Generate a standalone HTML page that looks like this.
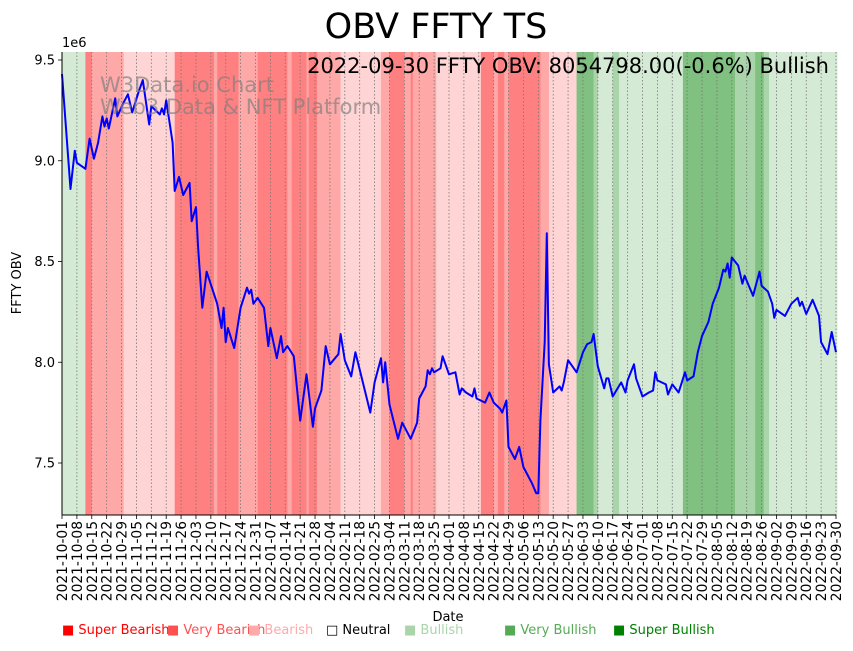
<!DOCTYPE html>
<html><head><meta charset="utf-8">
<style>
body{margin:0;background:#fff;font-family:"Liberation Sans","DejaVu Sans",sans-serif;}
svg text{font-family:"DejaVu Sans","Liberation Sans",sans-serif;}
</style></head>
<body>
<svg id="chart" width="853" height="646" xmlns="http://www.w3.org/2000/svg">
<text x="436" y="38" font-size="35" text-anchor="middle">OBV FFTY TS</text>
<text x="62" y="47" font-size="13">1e6</text>
<text transform="translate(21,283) rotate(-90)" font-size="13" text-anchor="middle">FFTY OBV</text>
<text x="448" y="621" font-size="13" text-anchor="middle">Date</text>
<g id="bands"></g>
<g id="grid"></g>
<g id="series"></g>
<text x="100" y="92" font-size="21" fill="#808080" fill-opacity="0.7">W3Data.io Chart</text>
<text x="100" y="114" font-size="21" fill="#808080" fill-opacity="0.7">Web3 Data &amp; NFT Platform</text>
<text x="829" y="73" font-size="21" text-anchor="end">2022-09-30 FFTY OBV: 8054798.00(-0.6%) Bullish</text>
<g id="axes"></g>
<g id="legend"></g>
</svg>
<script>
const days=[0,4,6,7,11,13,15,17,19,20,21,22,25,26,29,31,33,36,38,41,42,46,47,48,49,52,53,55,57,60,61,63,64,66,68,73,75,76,77,78,81,84,87,88,89,90,92,95,97,98,101,103,104,106,109,112,115,118,119,122,124,126,130,131,133,136,138,145,147,150,151,152,154,158,160,162,164,167,168,171,172,173,174,175,178,179,182,185,187,188,190,193,194,195,199,201,203,206,207,209,210,213,215,217,221,223,224,225,227,228,229,231,234,235,236,238,242,245,247,249,250,252,255,256,257,259,263,265,266,269,270,273,276,278,279,280,284,285,287,290,293,294,297,299,301,304,306,309,311,312,313,314,315,318,320,321,323,325,328,329,332,334,335,336,340,343,346,347,348,350,353,356,357,360,362,364];
const obv=[9.43,8.86,9.05,8.99,8.96,9.11,9.01,9.09,9.22,9.17,9.21,9.16,9.31,9.22,9.29,9.33,9.24,9.34,9.40,9.18,9.27,9.23,9.26,9.23,9.30,9.09,8.85,8.92,8.83,8.89,8.70,8.77,8.57,8.27,8.45,8.29,8.17,8.27,8.10,8.17,8.07,8.27,8.37,8.34,8.36,8.29,8.32,8.27,8.08,8.17,8.02,8.13,8.05,8.08,8.03,7.71,7.94,7.68,7.77,7.86,8.08,7.99,8.04,8.14,8.01,7.93,8.05,7.75,7.90,8.02,7.90,8.00,7.79,7.62,7.70,7.66,7.62,7.70,7.82,7.88,7.96,7.94,7.97,7.95,7.97,8.03,7.94,7.95,7.84,7.87,7.85,7.83,7.87,7.82,7.80,7.85,7.80,7.77,7.75,7.81,7.58,7.52,7.58,7.48,7.40,7.35,7.35,7.71,8.10,8.64,7.99,7.85,7.88,7.86,7.90,8.01,7.95,8.05,8.09,8.10,8.14,7.98,7.87,7.92,7.92,7.83,7.90,7.85,7.91,7.99,7.92,7.83,7.85,7.86,7.95,7.91,7.89,7.84,7.89,7.85,7.95,7.91,7.93,8.05,8.13,8.20,8.29,8.37,8.46,8.45,8.49,8.42,8.52,8.48,8.39,8.43,8.38,8.33,8.45,8.38,8.35,8.29,8.22,8.26,8.23,8.29,8.32,8.28,8.30,8.24,8.31,8.23,8.10,8.04,8.15,8.05];
const bandStart=[0,11,14,29,53,71.5,73,83,92,106,108,115,116,120,131,150,154,161,164,165,176,197,203,205,208,210,225,229,242,250,252,259,262,292,316.5,326,330,332.5];
const bandLevel=[1,-3,-2,-1,-3,-2,-3,-2,-3,-2,-3,-2,-3,-2,-1,-2,-3,-2,-3,-2,-1,-3,-2,-3,-2,-3,-2,-1,3,2,1,2,1,3,2,3,2,1];
const yTicks=[7.5,8.0,8.5,9.0,9.5];
const yTickLabels=["7.5","8.0","8.5","9.0","9.5"];
const legendLabels=["Super Bearish","Very Bearish","Bearish","Neutral","Bullish","Very Bullish","Super Bullish"];

const NS="http://www.w3.org/2000/svg";
const X0=62,X1=836,Y0=52,Y1=515,DMAX=364;
const xs=d=>X0+d*(X1-X0)/DMAX;
const ys=v=>60+(9.5-v)*201.5;
const colors={"-3":"#ff8080","-2":"#ffa8a8","-1":"#ffd4d4","1":"#d4ead4","2":"#aad5aa","3":"#80c080"};
function mk(tag,attrs,parent){const e=document.createElementNS(NS,tag);for(const k in attrs)e.setAttribute(k,attrs[k]);parent.appendChild(e);return e;}
const bands=document.getElementById('bands');
bandStart.forEach((s,i)=>{const e=(i+1<bandStart.length?bandStart[i+1]:DMAX+0.5);
 const r=mk('rect',{x:xs(s),y:Y0,width:xs(e)-xs(s)+0.3,height:Y1-Y0,fill:colors[bandLevel[i]]},bands);
 
 });
const grid=document.getElementById('grid'),axes=document.getElementById('axes');
const start=new Date(Date.UTC(2021,9,1));
for(let d=0;d<=DMAX;d+=7){const x=xs(d);
 mk('line',{x1:x,x2:x,y1:Y0,y2:Y1,stroke:'#777',"stroke-width":0.8,"stroke-dasharray":"1.5,2"},grid);
 mk('line',{x1:x,x2:x,y1:Y1,y2:Y1+4,stroke:'#000',"stroke-width":0.8},axes);
 const dt=new Date(start.getTime()+d*86400000);const lab=dt.toISOString().slice(0,10);
 const t=mk('text',{transform:`translate(${x+5},${Y1+6}) rotate(-90)`,"font-size":13.8,"text-anchor":"end"},axes);t.textContent=lab;
 
 }
yTicks.forEach((v,i)=>{const y=ys(v);
 mk('line',{x1:X0-4,x2:X0,y1:y,y2:y,stroke:'#000',"stroke-width":0.8},axes);
 const t=mk('text',{x:X0-7,y:y+4.5,"font-size":13,"text-anchor":"end"},axes);t.textContent=yTickLabels[i];
 
 });
mk('line',{x1:X0,x2:X0,y1:Y0,y2:Y1,stroke:'#000',"stroke-width":1},axes);
mk('line',{x1:X0,x2:X1,y1:Y1,y2:Y1,stroke:'#000',"stroke-width":1},axes);
const pts=days.map((d,i)=>xs(d).toFixed(1)+','+ys(obv[i]).toFixed(1)).join(' ');
const pl=mk('polyline',{points:pts,fill:'none',stroke:'#0000ff',"stroke-width":2,"stroke-linejoin":"round"},document.getElementById('series'));


const legCols=["#ff0000","#ff5050","#ffaaaa","#000000","#aad4aa","#55aa55","#008000"];
const legX=[62,167,248,326,404,504,613];
const leg=document.getElementById('legend');
legendLabels.forEach((l,i)=>{
 const t=mk('text',{x:legX[i],y:634,"font-size":13,fill:legCols[i]},leg);
 t.textContent=(i==3?'\u25A1 ':'\u25A0 ')+l;
 
 });
</script>
</body></html>
